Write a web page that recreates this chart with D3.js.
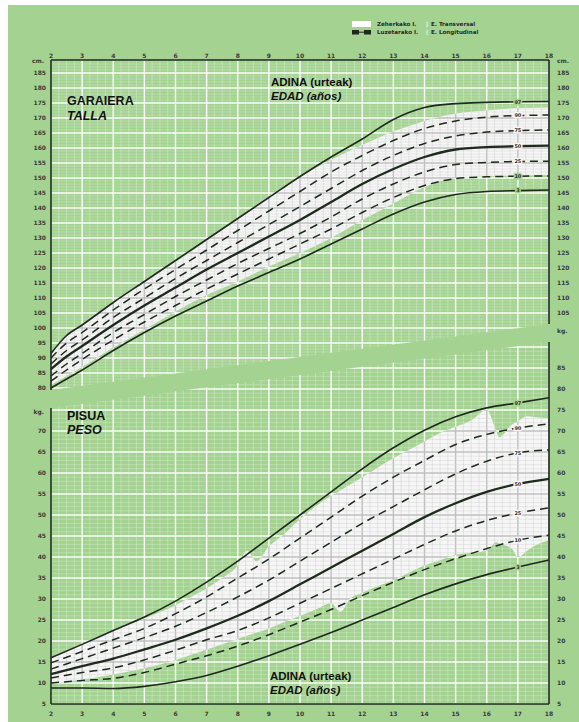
<!DOCTYPE html>
<html>
<head>
<meta charset="utf-8">
<script src="https://cdn.jsdelivr.net/npm/d3@7"></script>
<style>
  body { margin: 0; background: #fff; }
  svg { display: block; }
  .tick-lbl { font-family: "DejaVu Sans", sans-serif; font-weight: bold; font-size: 6px; fill: #3a3a3a; }
  .title { font-family: "Liberation Sans", Arial, sans-serif; font-weight: bold; fill: #111; }
</style>
</head>
<body>
<svg id="chart" width="579" height="722"></svg>
<script>
// ---- data ----
const years = d3.range(2, 19);
const heightAges = [2, 2.5, 3, 4, 5, 6, 7, 8, 9, 10, 11, 12, 13, 14, 15, 16, 17, 18];
const heightP97 = [91.5, 97.5, 101, 108.5, 115.5, 122.5, 129.5, 136.5, 143.5, 150.5, 157, 163, 169.5, 173.5, 174.8, 175.2, 175.4, 175.5];
const heightP90 = [90, 95, 98.5, 106, 113, 119.5, 126, 132.5, 139, 145.5, 152, 157.5, 162.5, 166.5, 169, 170.3, 170.8, 171];
const heightP75 = [88, 92.5, 96, 103.5, 110, 116.5, 122.5, 128.5, 134.5, 140.5, 146.5, 152.5, 157.5, 161.5, 164, 165.3, 165.8, 166];
const heightP50 = [86.3, 90.5, 94, 101, 107.5, 113.5, 119.5, 125, 130.5, 136, 142, 148, 153, 157, 159.5, 160.3, 160.6, 160.8];
const heightP25 = [84, 88, 91.5, 98.5, 104.5, 110.5, 116, 121.5, 126.5, 131.5, 137, 143, 148, 152, 154.5, 155.2, 155.5, 155.6];
const heightP10 = [82.3, 86, 89.5, 96, 102, 107.5, 113, 118, 123, 128, 133, 138.5, 143.5, 147.5, 149.8, 150.4, 150.6, 150.7];
const heightP3 = [80, 83, 86, 92.5, 98.5, 104, 109, 114, 118.5, 123, 128, 133, 138, 142, 144.5, 145.5, 145.8, 146];
// transversal study range (white band)
const heightTransUpper = [91.5, 97.5, 101, 108.5, 115.5, 122, 129, 136.5, 144, 150.5, 156, 161, 165.5, 169, 171.5, 172.5, 173.3, 173.5];
const heightTransLower = [81, 84, 87, 93.5, 99.5, 105.5, 111, 115.5, 120.5, 125, 130, 136, 141.5, 147, 150, 150.5, 150.8, 151];

const weightAges = [2, 3, 4, 5, 6, 7, 8, 9, 10, 11, 12, 13, 14, 15, 16, 17, 18];
const weightP97 = [16, 19.2, 22.5, 25.7, 29.5, 34, 39, 44.5, 50, 55.5, 61, 66, 70.2, 73.4, 75.5, 76.7, 77.9];
const weightP90 = [14.8, 17.5, 20.3, 23, 26.5, 30.5, 35, 39.5, 44.5, 49.5, 54.5, 59, 63, 66.8, 69.2, 70.7, 71.7];
const weightP75 = [13.3, 15.8, 18.3, 20.8, 23.5, 26.8, 30.5, 34.5, 39, 43.5, 48, 52, 56, 59.8, 62.8, 64.8, 65.5];
const weightP50 = [12.1, 14, 15.8, 18, 20.3, 23, 26, 29.5, 33.5, 37.5, 41.5, 45.5, 49.5, 52.8, 55.5, 57.4, 58.6];
const weightP25 = [11.2, 12.5, 13.6, 15.5, 17.8, 20.3, 22.5, 25.5, 29, 32.5, 36, 39.5, 43, 46.2, 48.7, 50.5, 51.7];
const weightP10 = [10, 10.6, 11.1, 12.5, 14.5, 16.5, 18.8, 21.5, 24.5, 27.5, 30.8, 34, 37, 39.6, 42, 44, 45.2];
const weightP3 = [8.8, 8.8, 8.7, 9.2, 10.3, 11.8, 14, 16.5, 19.2, 22, 25, 28, 31, 33.6, 35.8, 37.6, 39.3];
const weightTransUpperAges = [2, 3, 4, 5, 6, 6.5, 7, 7.5, 8, 8.3, 8.6, 9, 9.5, 10, 10.5, 11, 12, 13, 14, 14.5, 15, 15.5, 16, 16.4, 16.8, 17.3, 18];
const weightTransUpper = [16, 19.2, 22.5, 25.3, 28.5, 30.5, 32.5, 35, 38, 41.5, 39, 42.5, 45.5, 49, 52, 54.5, 59, 63.5, 67.5, 69.5, 71, 72.5, 75, 68.5, 71.5, 73.5, 73];
const weightTransLowerAges = [2, 3, 4, 5, 6, 7, 8, 9, 10, 11, 11.3, 11.6, 12, 13, 14, 15, 15.5, 16, 16.3, 16.8, 17, 17.5, 18];
const weightTransLower = [10, 10.8, 12, 13.5, 15.5, 18, 20.5, 23, 26, 29, 27, 30, 31.5, 34.5, 38, 40.5, 41, 41.5, 43.5, 42, 40, 42.5, 44];

const percentiles = ['97', '90', '75', '50', '25', '10', '3'];
const heightSeries = [heightP97, heightP90, heightP75, heightP50, heightP25, heightP10, heightP3];
const weightSeries = [weightP97, weightP90, weightP75, weightP50, weightP25, weightP10, weightP3];

const heightTicksLeft = d3.range(80, 190, 5);
const heightTicksRight = d3.range(105, 190, 5);
const weightTicksLeft = d3.range(5, 75, 5);
const weightTicksRight = d3.range(5, 90, 5);

// ---- layout ----
const GREEN = '#a4d391';
const INK = '#1e2a1e';
const PAPER = '#f6f6f6';

const svg = d3.select('#chart');
const x = d3.scaleLinear().domain([2, 18]).range([51, 549]);
const yH = d3.scaleLinear().domain([80, 190]).range([388, 58]);
const yW = d3.scaleLinear().domain([5, 90]).range([704, 347]);

svg.append('rect').attr('x', 8).attr('y', 5).attr('width', 571).attr('height', 717).attr('fill', GREEN);

const defs = svg.append('defs');
const hPoly = [[51, 60], [549, 60], [549, 324], [51, 390]];
const wPoly = [[51, 408], [549, 342], [549, 704], [51, 704]];
defs.append('clipPath').attr('id', 'clipH').append('path').attr('d', 'M' + hPoly.join('L') + 'Z');
defs.append('clipPath').attr('id', 'clipW').append('path').attr('d', 'M' + wPoly.join('L') + 'Z');

const drawGrid = (g, yScale, lo, hi, colMajor, colMinor, opMinor) => {
  d3.range(2, 18.01, 0.25).forEach(a => {
    const major = Math.abs(a - Math.round(a)) < 1e-6;
    g.append('line')
      .attr('x1', x(a)).attr('x2', x(a))
      .attr('y1', 40).attr('y2', 710)
      .attr('stroke', major ? colMajor : colMinor)
      .attr('stroke-width', major ? 1.4 : 0.6)
      .attr('stroke-opacity', major ? 0.95 : opMinor);
  });
  d3.range(lo, hi + 0.01, 1).forEach(v => {
    const major = v % 5 === 0;
    g.append('line')
      .attr('x1', 51).attr('x2', 549)
      .attr('y1', yScale(v)).attr('y2', yScale(v))
      .attr('stroke', major ? colMajor : colMinor)
      .attr('stroke-width', major ? 1.3 : 0.5)
      .attr('stroke-opacity', major ? 0.95 : opMinor);
  });
};

const drawPanel = (cfg) => {
  const panel = svg.append('g').attr('clip-path', `url(#${cfg.clip})`);
  drawGrid(panel.append('g'), cfg.y, cfg.lo, cfg.hi, '#ffffff', '#ffffff', 0.45);

  const area = d3.area()
    .x(d => x(d.a))
    .y0(d => cfg.y(d.lo))
    .y1(d => cfg.y(d.hi))
    .curve(d3.curveMonotoneX);
  const upF = d3.scaleLinear().domain(cfg.upAges).range(cfg.up);
  const loF = d3.scaleLinear().domain(cfg.loAges).range(cfg.low);
  const allAges = Array.from(new Set(cfg.upAges.concat(cfg.loAges))).sort((a, b) => a - b);
  const band = allAges.map(a => ({ a, lo: loF(a), hi: upF(a) }));
  const d = area(band);
  panel.append('path').attr('d', d).attr('fill', PAPER);
  defs.append('clipPath').attr('id', cfg.clip + 'Band').append('path').attr('d', d);
  drawGrid(panel.append('g').attr('clip-path', `url(#${cfg.clip}Band)`), cfg.y, cfg.lo, cfg.hi, '#bdbdbd', '#d2d2d2', 0.9);

  const line = d3.line().x(d => x(d[0])).y(d => cfg.y(d[1])).curve(d3.curveMonotoneX);
  cfg.series.forEach((vals, i) => {
    const p = percentiles[i];
    const dashed = !['97', '50', '3'].includes(p);
    svg.append('path')
      .datum(d3.zip(cfg.ages, vals))
      .attr('d', line)
      .attr('fill', 'none')
      .attr('stroke', INK)
      .attr('stroke-width', p === '50' ? 2.3 : (dashed ? 1.5 : 1.6))
      .attr('stroke-dasharray', dashed ? '8,5' : null);
    const v17 = vals[cfg.ages.indexOf(17)];
    const inside = v17 <= upF(17) && v17 >= loF(17);
    svg.append('text')
      .attr('x', x(17)).attr('y', cfg.y(v17) + 1.8)
      .attr('text-anchor', 'middle')
      .attr('font-family', 'DejaVu Sans, sans-serif')
      .attr('font-weight', 'bold')
      .attr('font-size', 5)
      .attr('fill', '#333')
      .attr('stroke', inside ? PAPER : GREEN)
      .attr('stroke-width', 3)
      .attr('paint-order', 'stroke')
      .text(p);
  });
};

drawPanel({
  clip: 'clipH', y: yH, lo: 79, hi: 190,
  ages: heightAges, series: heightSeries,
  upAges: heightAges, up: heightTransUpper, loAges: heightAges, low: heightTransLower,
});
drawPanel({
  clip: 'clipW', y: yW, lo: 5, hi: 90,
  ages: weightAges, series: weightSeries,
  upAges: weightTransUpperAges, up: weightTransUpper, loAges: weightTransLowerAges, low: weightTransLower,
});

// frame lines
const frame = [
  [51, 60, 549, 60], [51, 704, 549, 704],
  [51, 60, 51, 390], [51, 408, 51, 704],
  [549, 60, 549, 324], [549, 342, 549, 704],
];
frame.forEach(f => {
  svg.append('line').attr('x1', f[0]).attr('y1', f[1]).attr('x2', f[2]).attr('y2', f[3])
    .attr('stroke', INK).attr('stroke-width', 1.6);
});

// axis labels
const lbl = (xp, yp, t, anchor) => svg.append('text').attr('class', 'tick-lbl')
  .attr('x', xp).attr('y', yp).attr('text-anchor', anchor).text(t);

years.forEach(a => {
  lbl(x(a), 57.5, a, 'middle');
  lbl(x(a), 716, a, 'middle');
});
heightTicksLeft.forEach(v => lbl(46, yH(v) + 2.2, v, 'end'));
heightTicksRight.forEach(v => lbl(557, yH(v) + 2.2, v, 'start'));
weightTicksLeft.forEach(v => lbl(46, yW(v) + 2.2, v, 'end'));
weightTicksRight.forEach(v => lbl(557, yW(v) + 2.2, v, 'start'));
lbl(44, 63, 'cm.', 'end');
lbl(557, 63, 'cm.', 'start');
lbl(44, 414, 'kg.', 'end');
lbl(557, 333, 'kg.', 'start');

// titles
const title = (xp, yp, t, size, italic) => svg.append('text').attr('class', 'title')
  .attr('x', xp).attr('y', yp).attr('font-size', size)
  .attr('font-style', italic ? 'italic' : 'normal').text(t);
title(67, 105, 'GARAIERA', 12.5, false);
title(67, 120, 'TALLA', 12.5, true);
title(271, 86, 'ADINA (urteak)', 11.5, false);
title(271, 100, 'EDAD (años)', 11.5, true);
title(67, 420, 'PISUA', 12.5, false);
title(67, 434, 'PESO', 12.5, true);
title(270, 680, 'ADINA (urteak)', 11.5, false);
title(270, 694, 'EDAD (años)', 11.5, true);

// legend
const leg = svg.append('g');
leg.append('rect').attr('x', 352).attr('y', 21).attr('width', 19).attr('height', 6).attr('fill', '#fff');
leg.append('rect').attr('x', 352).attr('y', 30).attr('width', 7).attr('height', 4.5).attr('fill', INK);
leg.append('rect').attr('x', 364).attr('y', 30).attr('width', 7).attr('height', 4.5).attr('fill', INK);
leg.append('line').attr('x1', 359).attr('x2', 364).attr('y1', 32.2).attr('y2', 32.2).attr('stroke', INK).attr('stroke-width', 1);
const legText = (yp, a, b) => {
  const t = leg.append('text').attr('x', 377).attr('y', yp)
    .attr('font-family', 'DejaVu Sans, sans-serif').attr('font-weight', 'bold')
    .attr('font-size', 5.6).attr('fill', '#2a2a2a');
  t.append('tspan').text(a);
  t.append('tspan').attr('x', 426).attr('fill', '#fff').text('|');
  t.append('tspan').attr('x', 431).text(b);
};
legText(26, 'Zeherkako I.', 'E. Transversal');
legText(34, 'Luzetarako I.', 'E. Longitudinal');
</script>
</body>
</html>
